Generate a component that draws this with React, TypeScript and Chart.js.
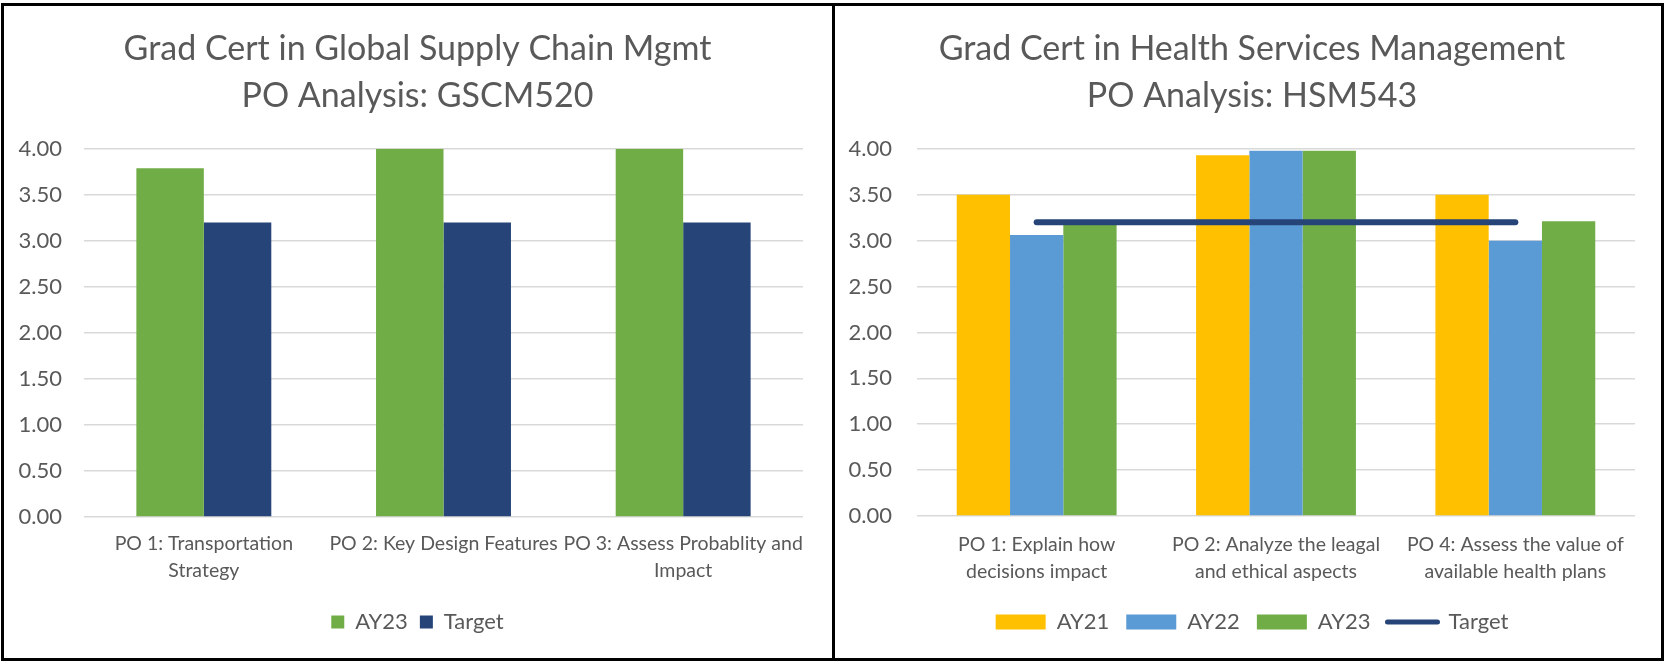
import React, { useEffect, useRef } from 'react';
import { Chart } from 'chart.js/auto';

const TEXT = '#595959';
const GRID = '#d9d9d9';
const GREEN = '#70AD47';
const NAVY = '#264478';
const YELLOW = '#FFC000';
const BLUE = '#5B9BD5';
const FONT = 'Lato';

// Left chart data
const gscmTitle = ['Grad Cert in Global Supply Chain Mgmt', 'PO Analysis: GSCM520'];
const gscmCategories = [['PO 1: Transportation', 'Strategy'], 'PO 2: Key Design Features', ['PO 3: Assess Probablity and', 'Impact']];
const gscmAY23 = [3.79, 4.0, 4.0];
const gscmTarget = [3.2, 3.2, 3.2];

// Right chart data
const hsmTitle = ['Grad Cert in Health Services Management', 'PO Analysis: HSM543'];
const hsmCategories = [['PO 1: Explain how', 'decisions impact'], ['PO 2: Analyze the leagal', 'and ethical aspects'], ['PO 4: Assess the value of', 'available health plans']];
const hsmAY21 = [3.5, 3.93, 3.5];
const hsmAY22 = [3.06, 3.98, 3.0];
const hsmAY23 = [3.17, 3.98, 3.21];
const hsmTarget = [3.2, 3.2, 3.2];

const yMin = 0;
const yMax = 4;
const yStep = 0.5;

function baseOptions(p: any) {
  return {
    responsive: false,
    maintainAspectRatio: false,
    animation: false,
    layout: { padding: { left: 0, right: p.padRight, top: 0, bottom: p.padBottom } },
    plugins: {
      tooltip: { enabled: false },
      title: {
        display: true,
        text: p.title,
        color: TEXT,
        font: { family: FONT, size: 34, weight: 'normal', lineHeight: 1.38 },
        padding: { top: 20, bottom: 29 },
      },
      legend: p.legend,
    },
    scales: {
      x: {
        grid: { display: false },
        border: { display: false },
        ticks: { color: TEXT, font: { family: FONT, size: 19.5, lineHeight: 1.4 }, maxRotation: 0, minRotation: 0, autoSkip: false, padding: p.xPad },
        afterFit: (s: any) => { s.height = p.xHeight; },
      },
      y: {
        min: yMin,
        max: yMax,
        grid: { color: GRID, lineWidth: 1.5, drawTicks: false },
        border: { display: false },
        ticks: { stepSize: yStep, color: TEXT, font: { family: FONT, size: 22 }, padding: p.yPad, callback: (v: any) => Number(v).toFixed(2) },
        afterFit: (s: any) => { s.width = p.yWidth; },
      },
      spacer: {
        type: 'linear',
        position: 'right',
        display: true,
        grid: { display: false },
        border: { display: false },
        ticks: { display: false },
        afterFit: (s: any) => { s.width = p.spacer; },
      },
    },
  };
}

function LeftChart() {
  const ref = useRef<HTMLCanvasElement>(null);
  useEffect(() => {
    const chart = new Chart(ref.current!, {
      type: 'bar',
      data: {
        labels: gscmCategories,
        datasets: [
          { label: 'AY23', data: gscmAY23, backgroundColor: GREEN, borderWidth: 0, categoryPercentage: 0.563, barPercentage: 1 },
          { label: 'Target', data: gscmTarget, backgroundColor: NAVY, borderWidth: 0, categoryPercentage: 0.563, barPercentage: 1 },
        ],
      },
      options: baseOptions({
        title: gscmTitle,
        padRight: 1,
        spacer: 28,
        padBottom: 15,
        xHeight: 82,
        xPad: 5,
        yWidth: 80,
        yPad: 22,
        legend: {
          display: true,
          position: 'bottom',
          labels: { boxWidth: 13, boxHeight: 13, padding: 12, color: TEXT, font: { family: FONT, size: 22 } },
        },
      }) as any,
    });
    return () => chart.destroy();
  }, []);
  return <canvas ref={ref} width={828} height={652} />;
}

function RightChart() {
  const ref = useRef<HTMLCanvasElement>(null);
  useEffect(() => {
    const defaultGen = (Chart.defaults.plugins.legend.labels as any).generateLabels;
    const chart = new Chart(ref.current!, {
      type: 'bar',
      data: {
        labels: hsmCategories,
        datasets: [
          { label: 'AY21', data: hsmAY21, backgroundColor: YELLOW, borderWidth: 0, categoryPercentage: 0.668, barPercentage: 1 },
          { label: 'AY22', data: hsmAY22, backgroundColor: BLUE, borderWidth: 0, categoryPercentage: 0.668, barPercentage: 1 },
          { label: 'AY23', data: hsmAY23, backgroundColor: GREEN, borderWidth: 0, categoryPercentage: 0.668, barPercentage: 1 },
          { type: 'line', label: 'Target', data: hsmTarget, borderColor: NAVY, backgroundColor: NAVY, borderWidth: 6, borderCapStyle: 'round', pointRadius: 0, order: -1 } as any,
        ],
      },
      options: baseOptions({
        title: hsmTitle,
        padRight: 2,
        spacer: 34,
        padBottom: 15,
        xHeight: 78,
        xPad: 7,
        yWidth: 82,
        yPad: 25,
        legend: {
          display: true,
          position: 'bottom',
          labels: {
            usePointStyle: true,
            pointStyleWidth: 50,
            boxHeight: 15,
            padding: 17,
            color: TEXT,
            font: { family: FONT, size: 22 },
            generateLabels: (c: any) => {
              const items = defaultGen(c);
              items.forEach((it: any) => {
                const ds = c.data.datasets[it.datasetIndex];
                if (ds.type === 'line') {
                  it.pointStyle = 'line';
                  it.lineWidth = 5;
                  it.lineCap = 'round';
                  it.strokeStyle = NAVY;
                } else {
                  it.pointStyle = 'rect';
                  it.lineWidth = 0;
                }
              });
              items.sort((a: any, b: any) => a.datasetIndex - b.datasetIndex);
              return items;
            },
          },
        },
      }) as any,
    });
    return () => chart.destroy();
  }, []);
  return <canvas ref={ref} width={836} height={652} />;
}

export default function App() {
  useEffect(() => {
    document.body.style.margin = '0';
  }, []);
  const panel: React.CSSProperties = {
    position: 'absolute',
    top: 3,
    height: 658,
    border: '3px solid #000',
    boxSizing: 'border-box',
  };
  return (
    <div style={{ position: 'absolute', left: 0, top: 0, width: 1664, height: 661, background: '#fff', overflow: 'hidden' }}>
      <div style={{ ...panel, left: 1, width: 834 }}>
        <LeftChart />
      </div>
      <div style={{ ...panel, left: 832, width: 832 }}>
        <RightChart />
      </div>
    </div>
  );
}
